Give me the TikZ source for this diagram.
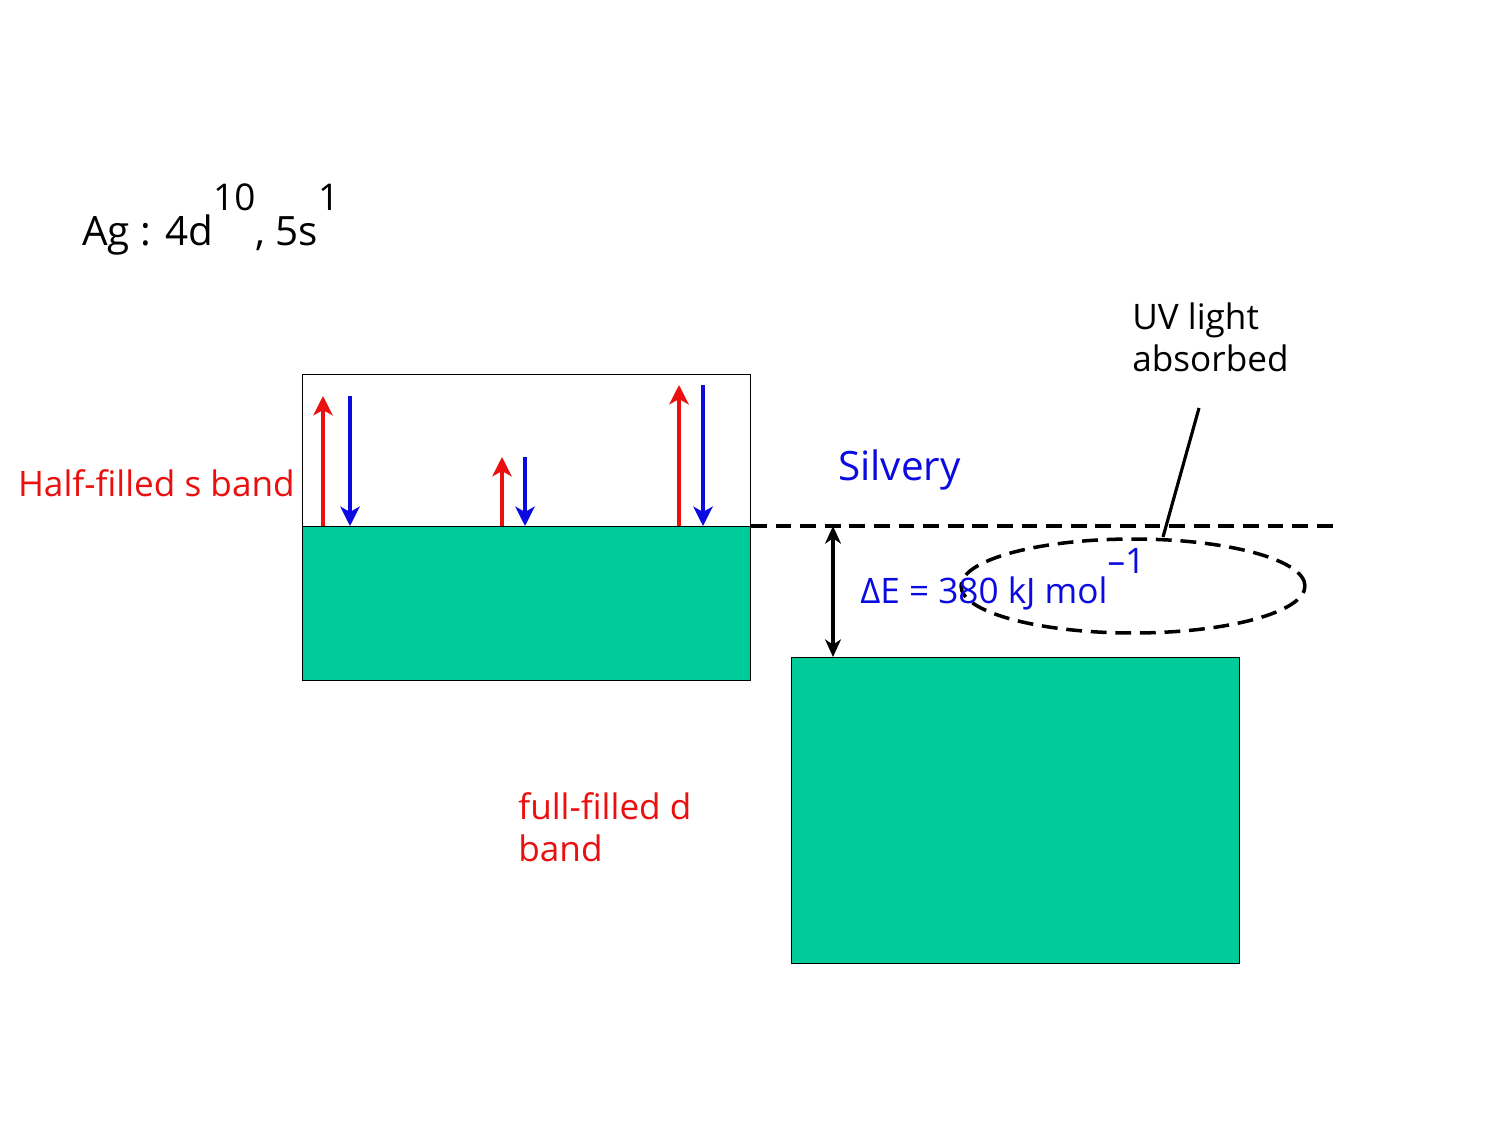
\documentclass[tikz,border=0pt]{standalone}
\usepackage{fontspec}
\setmainfont{Open Sans}
\usetikzlibrary{arrows.meta,shapes.geometric,positioning}
\definecolor{bandgreen}{RGB}{0,204,153}
\definecolor{spinred}{RGB}{235,15,15}
\definecolor{spinblue}{RGB}{10,10,225}
\tikzset{
  band/.style={
    draw=black,
    line width=0.6pt,
    inner sep=0pt,
    anchor=north west,
    minimum width=8.96cm
  },
  spinup/.style={
    draw=spinred,
    line width=2.3pt,
    -{Stealth[length=11pt,width=11pt,inset=3pt]}
  },
  spindown/.style={
    draw=spinblue,
    line width=2.3pt,
    -{Stealth[length=11pt,width=11pt,inset=3pt]}
  },
  gap/.style={
    draw=black,
    line width=1.9pt,
    {Stealth[length=10pt,width=9pt,inset=3pt]}-{Stealth[length=10pt,width=9pt,inset=3pt]}
  },
  level/.style={
    draw=black,
    line width=2pt,
    dash pattern=on 9pt off 5pt
  },
  label/.style={
    inner sep=0pt,
    font=\fontsize{20}{24}\selectfont
  }
}

\begin{document}
\begin{tikzpicture}[x=0.02cm,y=-0.02cm]
    \useasboundingbox[fill=white] (0,0) rectangle (1500,1125);
    % bands
    \node[band, fill=white, minimum height=3.04cm] (sband) at (302,374) {};
    \node[band, fill=bandgreen, minimum height=3.08cm] (sfill) at (302,526) {};
    \node[band, fill=bandgreen, minimum height=6.12cm] (dband) at (791,657) {};
    % Fermi level and gap
    \coordinate (fermi) at (1340,526);
    \draw[level] (sfill.north east) -- (fermi);
    \coordinate (gaptop) at (833,526);
    \draw[gap] (gaptop) -- (gaptop |- dband.north);
    % spins
    \foreach \xu/\xd/\ytop [count=\i] in {323/350/396, 502/525/457, 679/703/385} {
      \coordinate (upfrom\i) at (\xu,526);
      \coordinate (upto\i) at (\xu,\ytop);
      \coordinate (downfrom\i) at (\xd,\ytop);
      \coordinate (downto\i) at (\xd,526);
      \draw[spinup] (upfrom\i) -- (upto\i);
      \draw[spindown] (downfrom\i) -- (downto\i);
    }
    % UV absorption
    \node[ellipse, draw=black, line width=2pt, dash pattern=on 9pt off 5pt,
          minimum width=6.88cm, minimum height=1.88cm] (uv) at (1133,586) {};
    \coordinate (uvtip) at (1199,408);
    \draw[line width=1.8pt] (uvtip) -- (1163,537);
    % texts
    \node[label, anchor=base west, font=\fontsize{23}{27}\selectfont] (config) at (82,245)
      {Ag : 4d\raisebox{0.85em}{\fontsize{21}{21}\selectfont 10}, 5s\raisebox{0.85em}{\fontsize{21}{21}\selectfont 1}};
    \node[label, anchor=base east, text=spinred] (slabel) at (295,496) {Half-filled s band};
    \node[label, anchor=base west, text=spinblue, font=\fontsize{23}{27}\selectfont] (silvery) at (838,480) {Silvery};
    \node[label, anchor=base west, text=spinblue] (gaplabel) at (860,603)
      {ΔE = 380 kJ mol\raisebox{0.85em}{–1}};
    \node[label, anchor=north west, align=left] (uvlabel) at (1132,302) {UV light\\absorbed};
    \node[label, anchor=north west, align=left, text=spinred] (dlabel) at (518,792) {full-filled d\\band};
\end{tikzpicture}
\end{document}
